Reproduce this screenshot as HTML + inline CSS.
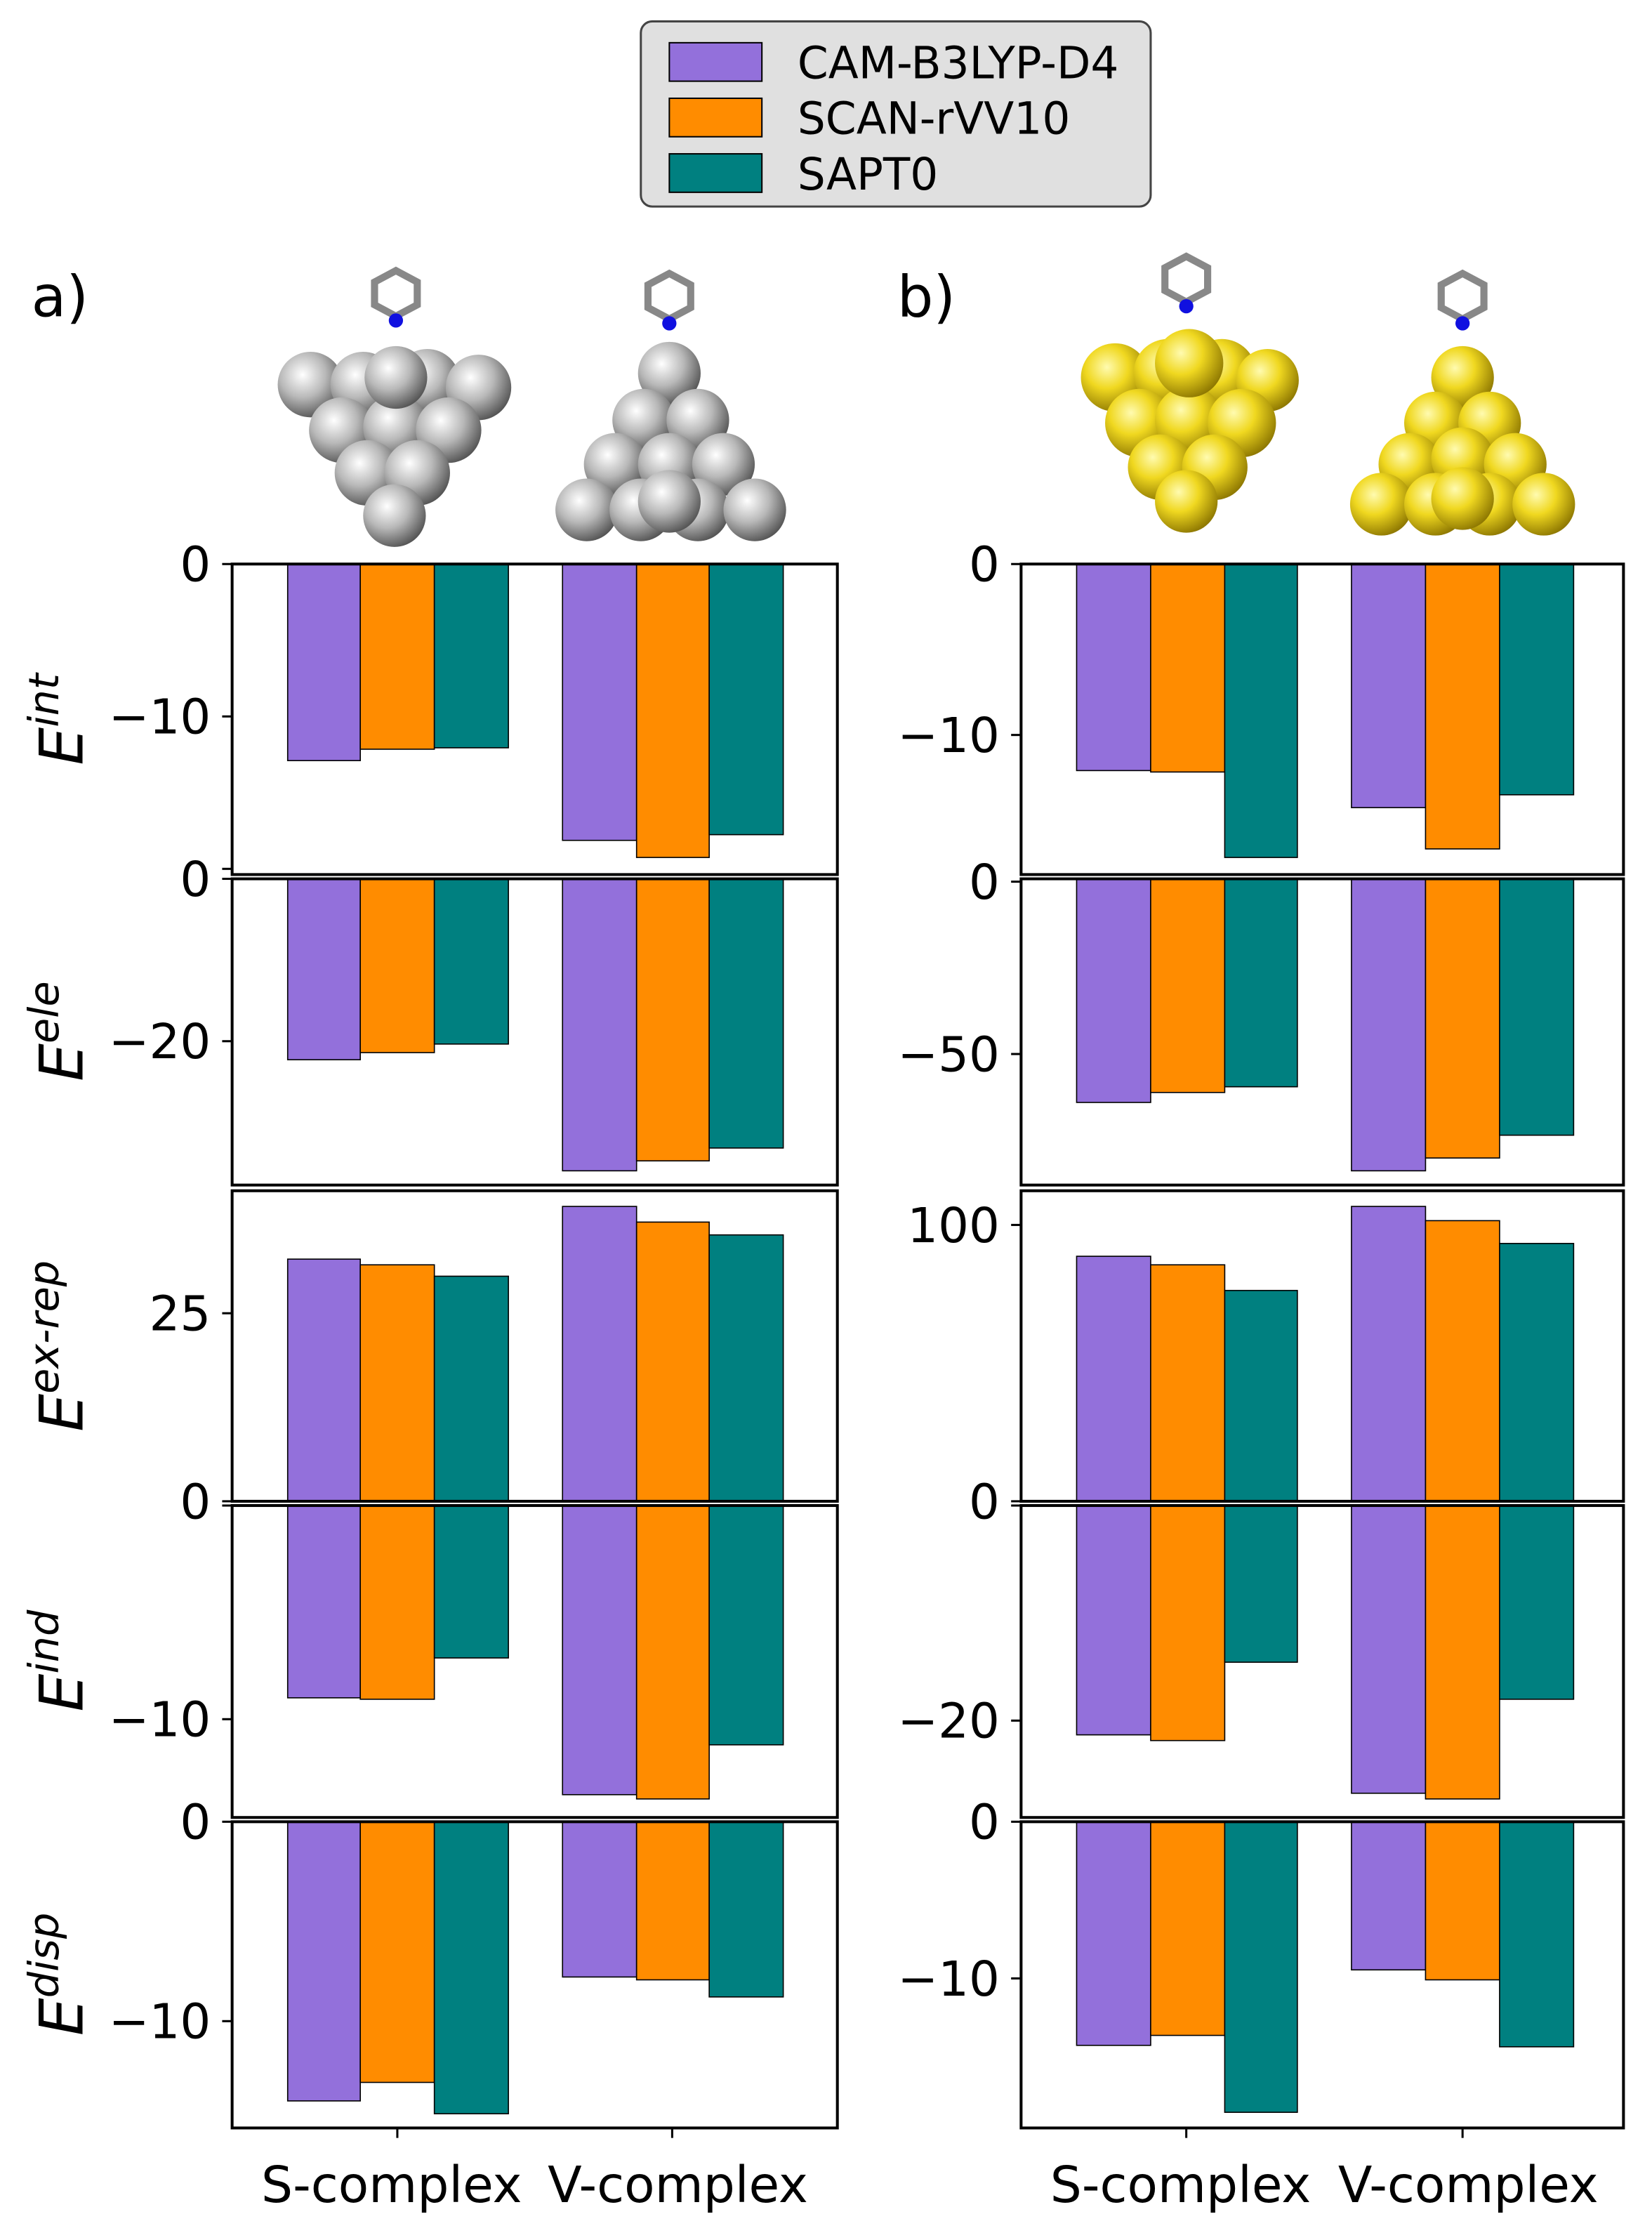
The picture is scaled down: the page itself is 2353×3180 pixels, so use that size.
<!DOCTYPE html>
<html><head><meta charset="utf-8"><style>
html,body{margin:0;padding:0;background:#fff}
svg{display:block}
text{font-family:"DejaVu Sans","Liberation Sans",sans-serif;fill:#000}
</style></head><body>
<svg width="2353" height="3180" viewBox="0 0 2353 3180">
<defs>
<radialGradient id="ag" cx="0.38" cy="0.35" r="0.7"><stop offset="0" stop-color="#ffffff"/><stop offset="0.5" stop-color="#b8b8b8"/><stop offset="1" stop-color="#505050"/></radialGradient>
<radialGradient id="au" cx="0.38" cy="0.35" r="0.7"><stop offset="0" stop-color="#fffbb0"/><stop offset="0.45" stop-color="#f0d820"/><stop offset="1" stop-color="#8a7400"/></radialGradient>
</defs>
<g transform="scale(2.0284)">
<rect x="450" y="15" width="358" height="130" rx="8" fill="#e0e0e0" stroke="#444" stroke-width="1.5"/>
<rect x="470" y="30" width="65" height="27" fill="#9370DB" stroke="#000" stroke-width="1"/>
<rect x="470" y="69" width="65" height="27" fill="#FF8C00" stroke="#000" stroke-width="1"/>
<rect x="470" y="108" width="65" height="27" fill="#008080" stroke="#000" stroke-width="1"/>
<text x="560" y="55" font-size="31">CAM-B3LYP-D4</text>
<text x="560" y="94" font-size="31">SCAN-rVV10</text>
<text x="560" y="133" font-size="31">SAPT0</text>
<text x="22" y="222" font-size="40">a)</text>
<text x="630" y="222" font-size="40">b)</text>

<g>
<circle cx="218" cy="270" r="23" fill="url(#ag)"/><circle cx="255" cy="270" r="23" fill="url(#ag)"/><circle cx="300" cy="268" r="23" fill="url(#ag)"/><circle cx="336" cy="272" r="23" fill="url(#ag)"/>
<circle cx="240" cy="302" r="23" fill="url(#ag)"/><circle cx="278" cy="300" r="23" fill="url(#ag)"/><circle cx="315" cy="302" r="23" fill="url(#ag)"/>
<circle cx="258" cy="332" r="23" fill="url(#ag)"/><circle cx="293" cy="332" r="23" fill="url(#ag)"/>
<circle cx="277" cy="362" r="22" fill="url(#ag)"/>
<circle cx="278" cy="265" r="22" fill="url(#ag)"/>
</g>
<g>
<circle cx="470" cy="262" r="22" fill="url(#ag)"/>
<circle cx="452" cy="295" r="22" fill="url(#ag)"/><circle cx="490" cy="295" r="22" fill="url(#ag)"/>
<circle cx="432" cy="326" r="22" fill="url(#ag)"/><circle cx="470" cy="326" r="22" fill="url(#ag)"/><circle cx="508" cy="326" r="22" fill="url(#ag)"/>
<circle cx="412" cy="358" r="22" fill="url(#ag)"/><circle cx="450" cy="358" r="22" fill="url(#ag)"/><circle cx="490" cy="358" r="22" fill="url(#ag)"/><circle cx="530" cy="358" r="22" fill="url(#ag)"/>
<circle cx="470" cy="352" r="22" fill="url(#ag)"/>
</g>
<g>
<circle cx="783" cy="265" r="24" fill="url(#au)"/><circle cx="820" cy="262" r="24" fill="url(#au)"/><circle cx="858" cy="262" r="24" fill="url(#au)"/><circle cx="890" cy="267" r="22" fill="url(#au)"/>
<circle cx="800" cy="297" r="24" fill="url(#au)"/><circle cx="835" cy="295" r="24" fill="url(#au)"/><circle cx="872" cy="297" r="24" fill="url(#au)"/>
<circle cx="815" cy="328" r="23" fill="url(#au)"/><circle cx="853" cy="328" r="23" fill="url(#au)"/>
<circle cx="833" cy="352" r="22" fill="url(#au)"/>
<circle cx="835" cy="255" r="24" fill="url(#au)"/>
</g>
<g>
<circle cx="1027" cy="265" r="22" fill="url(#au)"/>
<circle cx="1008" cy="297" r="22" fill="url(#au)"/><circle cx="1046" cy="297" r="22" fill="url(#au)"/>
<circle cx="990" cy="326" r="22" fill="url(#au)"/><circle cx="1027" cy="322" r="22" fill="url(#au)"/><circle cx="1064" cy="326" r="22" fill="url(#au)"/>
<circle cx="970" cy="354" r="22" fill="url(#au)"/><circle cx="1008" cy="354" r="22" fill="url(#au)"/><circle cx="1046" cy="354" r="22" fill="url(#au)"/><circle cx="1084" cy="354" r="22" fill="url(#au)"/>
<circle cx="1027" cy="350" r="22" fill="url(#au)"/>
</g>
<g fill="none" stroke="#888" stroke-width="5">
<polygon points="278,190 293,198 293,214 278,222 263,214 263,198"/>
<polygon points="470,192 485,200 485,216 470,224 455,216 455,200"/>
<polygon points="833,180 848,188 848,204 833,212 818,204 818,188"/>
<polygon points="1027,192 1042,200 1042,216 1027,224 1012,216 1012,200"/>
</g>
<circle cx="278" cy="225" r="5" fill="#1010e0"/><circle cx="470" cy="227" r="5" fill="#1010e0"/><circle cx="833" cy="215" r="5" fill="#1010e0"/><circle cx="1027" cy="227" r="5" fill="#1010e0"/>

<g stroke="#000" stroke-width="0.8">
<rect x="202" y="396" width="51" height="138" fill="#9370DB"/><rect x="253" y="396" width="52" height="130" fill="#FF8C00"/><rect x="305" y="396" width="52" height="129" fill="#008080"/>
<rect x="395" y="396" width="52" height="194" fill="#9370DB"/><rect x="447" y="396" width="51" height="206" fill="#FF8C00"/><rect x="498" y="396" width="52" height="190" fill="#008080"/>
<rect x="756" y="396" width="52" height="145" fill="#9370DB"/><rect x="808" y="396" width="52" height="146" fill="#FF8C00"/><rect x="860" y="396" width="51" height="206" fill="#008080"/>
<rect x="949" y="396" width="52" height="171" fill="#9370DB"/><rect x="1001" y="396" width="52" height="200" fill="#FF8C00"/><rect x="1053" y="396" width="52" height="162" fill="#008080"/>
<rect x="202" y="617" width="51" height="127" fill="#9370DB"/><rect x="253" y="617" width="52" height="122" fill="#FF8C00"/><rect x="305" y="617" width="52" height="116" fill="#008080"/>
<rect x="395" y="617" width="52" height="205" fill="#9370DB"/><rect x="447" y="617" width="51" height="198" fill="#FF8C00"/><rect x="498" y="617" width="52" height="189" fill="#008080"/>
<rect x="756" y="617" width="52" height="157" fill="#9370DB"/><rect x="808" y="617" width="52" height="150" fill="#FF8C00"/><rect x="860" y="617" width="51" height="146" fill="#008080"/>
<rect x="949" y="617" width="52" height="205" fill="#9370DB"/><rect x="1001" y="617" width="52" height="196" fill="#FF8C00"/><rect x="1053" y="617" width="52" height="180" fill="#008080"/>
<rect x="202" y="884" width="51" height="170" fill="#9370DB"/><rect x="253" y="888" width="52" height="166" fill="#FF8C00"/><rect x="305" y="896" width="52" height="158" fill="#008080"/>
<rect x="395" y="847" width="52" height="207" fill="#9370DB"/><rect x="447" y="858" width="51" height="196" fill="#FF8C00"/><rect x="498" y="867" width="52" height="187" fill="#008080"/>
<rect x="756" y="882" width="52" height="172" fill="#9370DB"/><rect x="808" y="888" width="52" height="166" fill="#FF8C00"/><rect x="860" y="906" width="51" height="148" fill="#008080"/>
<rect x="949" y="847" width="52" height="207" fill="#9370DB"/><rect x="1001" y="857" width="52" height="197" fill="#FF8C00"/><rect x="1053" y="873" width="52" height="181" fill="#008080"/>
<rect x="202" y="1057" width="51" height="135" fill="#9370DB"/><rect x="253" y="1057" width="52" height="136" fill="#FF8C00"/><rect x="305" y="1057" width="52" height="107" fill="#008080"/>
<rect x="395" y="1057" width="52" height="203" fill="#9370DB"/><rect x="447" y="1057" width="51" height="206" fill="#FF8C00"/><rect x="498" y="1057" width="52" height="168" fill="#008080"/>
<rect x="756" y="1057" width="52" height="161" fill="#9370DB"/><rect x="808" y="1057" width="52" height="165" fill="#FF8C00"/><rect x="860" y="1057" width="51" height="110" fill="#008080"/>
<rect x="949" y="1057" width="52" height="202" fill="#9370DB"/><rect x="1001" y="1057" width="52" height="206" fill="#FF8C00"/><rect x="1053" y="1057" width="52" height="136" fill="#008080"/>
<rect x="202" y="1279" width="51" height="196" fill="#9370DB"/><rect x="253" y="1279" width="52" height="183" fill="#FF8C00"/><rect x="305" y="1279" width="52" height="205" fill="#008080"/>
<rect x="395" y="1279" width="52" height="109" fill="#9370DB"/><rect x="447" y="1279" width="51" height="111" fill="#FF8C00"/><rect x="498" y="1279" width="52" height="123" fill="#008080"/>
<rect x="756" y="1279" width="52" height="157" fill="#9370DB"/><rect x="808" y="1279" width="52" height="150" fill="#FF8C00"/><rect x="860" y="1279" width="51" height="204" fill="#008080"/>
<rect x="949" y="1279" width="52" height="104" fill="#9370DB"/><rect x="1001" y="1279" width="52" height="111" fill="#FF8C00"/><rect x="1053" y="1279" width="52" height="158" fill="#008080"/>
</g>

<g fill="none" stroke="#000" stroke-width="2">
<rect x="163" y="396" width="425" height="218"/><rect x="163" y="617" width="425" height="215"/><rect x="163" y="836" width="425" height="218"/><rect x="163" y="1057" width="425" height="219"/><rect x="163" y="1279" width="425" height="215"/>
<rect x="717" y="396" width="423" height="218"/><rect x="717" y="617" width="423" height="215"/><rect x="717" y="836" width="423" height="218"/><rect x="717" y="1057" width="423" height="219"/><rect x="717" y="1279" width="423" height="215"/>
</g>
<g stroke="#000" stroke-width="1.5">
<line x1="156" y1="396" x2="163" y2="396"/><line x1="156" y1="503" x2="163" y2="503"/><line x1="156" y1="610" x2="163" y2="610"/>
<line x1="156" y1="617" x2="163" y2="617"/><line x1="156" y1="731" x2="163" y2="731"/>
<line x1="156" y1="922" x2="163" y2="922"/><line x1="156" y1="1054" x2="163" y2="1054"/>
<line x1="156" y1="1057" x2="163" y2="1057"/><line x1="156" y1="1207" x2="163" y2="1207"/>
<line x1="156" y1="1279" x2="163" y2="1279"/><line x1="156" y1="1419" x2="163" y2="1419"/>
<line x1="710" y1="396" x2="717" y2="396"/><line x1="710" y1="516" x2="717" y2="516"/>
<line x1="710" y1="619" x2="717" y2="619"/><line x1="710" y1="740" x2="717" y2="740"/>
<line x1="710" y1="860" x2="717" y2="860"/><line x1="710" y1="1054" x2="717" y2="1054"/>
<line x1="710" y1="1057" x2="717" y2="1057"/><line x1="710" y1="1208" x2="717" y2="1208"/>
<line x1="710" y1="1279" x2="717" y2="1279"/><line x1="710" y1="1389" x2="717" y2="1389"/>
<line x1="279" y1="1494" x2="279" y2="1501"/><line x1="472" y1="1494" x2="472" y2="1501"/>
<line x1="833" y1="1494" x2="833" y2="1501"/><line x1="1027" y1="1494" x2="1027" y2="1501"/>
</g>
<g font-size="34" text-anchor="end">
<text x="148" y="408">0</text><text x="148" y="515">−10</text>
<text x="148" y="629">0</text><text x="148" y="743">−20</text>
<text x="148" y="934">25</text><text x="148" y="1066">0</text>
<text x="148" y="1219">−10</text>
<text x="148" y="1291">0</text><text x="148" y="1431">−10</text>
<text x="702" y="408">0</text><text x="702" y="528">−10</text>
<text x="702" y="631">0</text><text x="702" y="752">−50</text>
<text x="702" y="872">100</text><text x="702" y="1066">0</text>
<text x="702" y="1220">−20</text>
<text x="702" y="1291">0</text><text x="702" y="1401">−10</text>
</g>
<g font-size="35" text-anchor="middle">
<text x="275" y="1546">S-complex</text><text x="476" y="1546">V-complex</text>
<text x="829" y="1546">S-complex</text><text x="1031" y="1546">V-complex</text>
</g>
<g font-size="42" font-style="italic">
<text transform="translate(58,505) rotate(-90)" text-anchor="middle">E<tspan font-size="29" dy="-17">int</tspan></text>
<text transform="translate(58,724) rotate(-90)" text-anchor="middle">E<tspan font-size="29" dy="-17">ele</tspan></text>
<text transform="translate(58,945) rotate(-90)" text-anchor="middle">E<tspan font-size="29" dy="-17">ex-rep</tspan></text>
<text transform="translate(58,1166) rotate(-90)" text-anchor="middle">E<tspan font-size="29" dy="-17">ind</tspan></text>
<text transform="translate(58,1386) rotate(-90)" text-anchor="middle">E<tspan font-size="29" dy="-17">disp</tspan></text>
</g>
</g>
</svg>
</body></html>
